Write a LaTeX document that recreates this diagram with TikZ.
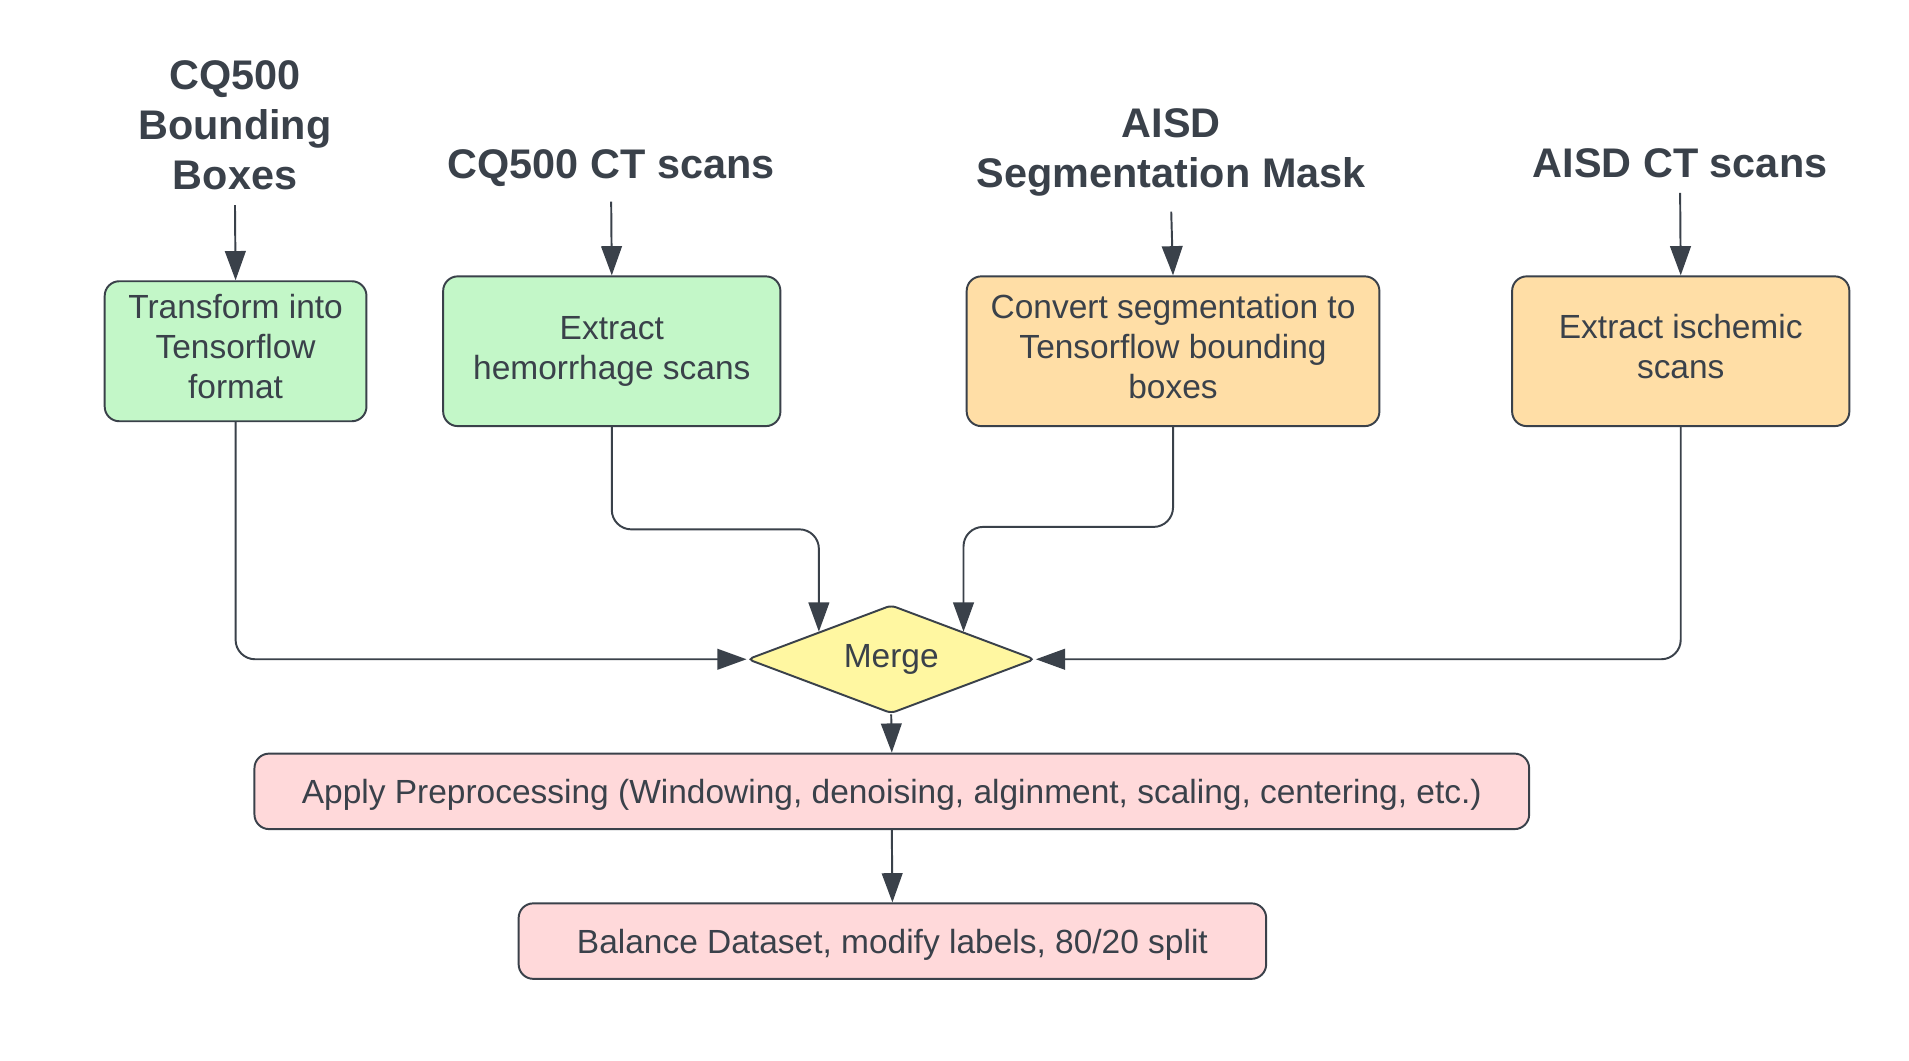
\documentclass[tikz,border=0pt]{standalone}
\usepackage{fontspec}
\setmainfont{Liberation Sans}
\usetikzlibrary{arrows.meta,shapes.geometric}
\definecolor{ink}{HTML}{3A414A}
\definecolor{greenfill}{HTML}{C3F7C8}
\definecolor{orangefill}{HTML}{FFDEA6}
\definecolor{yellowfill}{HTML}{FFF7A1}
\definecolor{pinkfill}{HTML}{FFD9DA}

\begin{document}
\begin{tikzpicture}[x=0.5pt,y=-0.5pt,
		title/.style={font=\fontsize{17}{20.5}\selectfont\bfseries, text=ink, align=center, inner sep=6pt},
		stepbox/.style={draw=ink, line width=0.8pt, rounded corners=6pt, font=\fontsize{13.75}{16.5}\selectfont, text=ink, align=center, inner sep=0pt},
		lifted/.style={text depth=4pt},
		oneline/.style={text height=13pt, text depth=3pt},
		flow/.style={draw=ink, line width=0.8pt, -{Triangle[length=12pt,width=8.5pt]}, rounded corners=8pt}]
		\fill[white] (0,0) rectangle (1568,871);
		\useasboundingbox (0,0) rectangle (1568,871);

		\node[title] (cqbox) at (193,103) {CQ500\\Bounding\\Boxes};
		\node[title] (cqct) at (502,138) {CQ500 CT scans};
		\node[title] (aisdmask) at (962,125.5) {AISD\\Segmentation Mask};
		\node[title] (aisdct) at (1380,134) {AISD CT scans};

		\node[stepbox, lifted, fill=greenfill, minimum width=107.5pt, minimum height=57.5pt] (transform) at (193.5,288.5) {Transform into\\Tensorflow\\format};
		\node[stepbox, fill=greenfill, minimum width=138.5pt, minimum height=61.5pt] (hemo) at (502.5,288.5) {Extract\\hemorrhage scans};
		\node[stepbox, lifted, fill=orangefill, minimum width=169.5pt, minimum height=61.5pt] (convert) at (963.5,288.5) {Convert segmentation to\\Tensorflow bounding\\boxes};
		\node[stepbox, lifted, fill=orangefill, minimum width=138.5pt, minimum height=61.5pt] (isch) at (1380.5,288.5) {Extract ischemic\\scans};

		\node[diamond, aspect=2.65, draw=ink, line width=0.8pt, fill=yellowfill, rounded corners=2pt, inner sep=0pt, minimum width=118pt, minimum height=44.5pt, font=\fontsize{13.75}{16.5}\selectfont, text=ink] (merge) at (732,541.5) {Merge};

		\node[stepbox, oneline, fill=pinkfill, minimum width=523.5pt, minimum height=31pt] (prep) at (732.5,650) {Apply Preprocessing (Windowing, denoising, alginment, scaling, centering, etc.)};
		\node[stepbox, oneline, fill=pinkfill, minimum width=307pt, minimum height=31pt] (balance) at (733,773) {Balance Dataset, modify labels, 80/20 split};

		\draw[flow] (cqbox.south) -- (transform.north);
		\draw[flow] (cqct.south) -- (hemo.north);
		\draw[flow] (aisdmask.south) -- (convert.north);
		\draw[flow] (aisdct.south) -- (isch.north);

		\draw[flow] (transform.south) |- (merge.west);
		\draw[flow] (hemo.south) -- ++(0,84) -| (merge.north west);
		\draw[flow] (convert.south) -- ++(0,82) -| (merge.north east);
		\draw[flow] (isch.south) |- (merge.east);

		\draw[flow] (merge.south) -- (prep.north);
		\draw[flow] (prep.south) -- (balance.north);
	\end{tikzpicture}
\end{document}
